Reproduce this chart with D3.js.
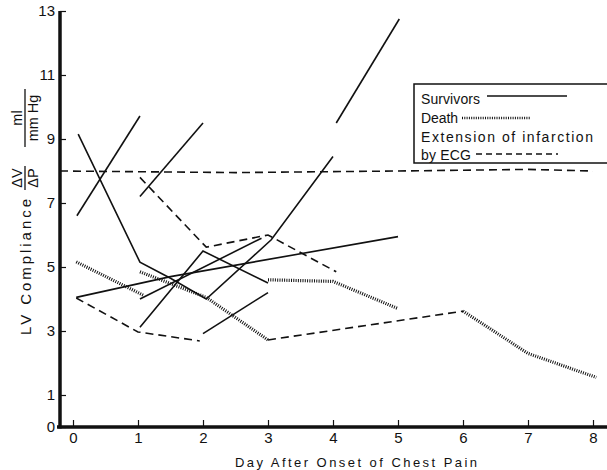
<!DOCTYPE html>
<html>
<head>
<meta charset="utf-8">
<script src="https://cdn.jsdelivr.net/npm/d3@7"></script>
<style>
  body { margin: 0; background: #fff; }
  svg { display: block; font-family: "Liberation Sans", Arial, sans-serif; }
</style>
</head>
<body>
<svg id="chart" width="607" height="470"></svg>
<script>

// day after onset, compliance (ml / mm Hg)
let survivors = [
  [[0.08, 9.15], [1.03, 5.15], [1.5, 4.65], [2.05, 4.0], [3.05, 5.85], [4.0, 8.45]],
  [[4.05, 9.5], [5.02, 12.75]],
  [[0.06, 6.6], [1.03, 9.72]],
  [[1.03, 7.2], [2.0, 9.5]],
  [[0.05, 4.05], [1.5, 4.7], [5.0, 5.95]],
  [[1.03, 3.12], [2.0, 5.5], [3.0, 4.5]],
  [[1.03, 4.0], [2.9, 5.9]],
  [[2.0, 2.92], [3.0, 4.2]]
]

let deaths = [
  [[0.05, 5.16], [1.08, 4.12]],
  [[1.03, 4.85], [2.05, 4.05], [3.0, 2.72]],
  [[3.0, 4.6], [4.0, 4.55], [5.0, 3.7]],
  [[6.0, 3.62], [7.0, 2.3], [8.05, 1.55]]
]

let extensions = [
  [[-0.2, 8.0], [2.5, 7.95], [5.0, 8.0], [7.0, 8.05], [8.0, 8.0]],
  [[1.03, 7.8], [2.05, 5.62], [3.0, 6.0], [4.05, 4.85]],
  [[0.05, 4.03], [1.0, 2.97], [1.95, 2.69]],
  [[3.0, 2.72], [6.0, 3.62]]
]

let dayTicks = [0, 1, 2, 3, 4, 5, 6, 7, 8]
let complianceTicks = [0, 1, 3, 5, 7, 9, 11, 13]
let legendLabels = ["Survivors", "Death", "Extension of infarction", "by ECG"]

let svg = d3.select("#chart")

let x = d3.scaleLinear().domain([-0.2, 8]).range([60, 593])
let y = d3.scaleLinear().domain([0, 13]).range([427, 11])

let line = d3.line().x(function(p) { return x(p[0]) }).y(function(p) { return y(p[1]) })

let styles = {
  survivor: {width: 1.6, dash: null},
  death: {width: 3.2, dash: "1,1.3"},
  extension: {width: 1.6, dash: "8,5"}
}

function drawGroup(lines, style, name) {
  svg.append("g")
     .attr("class", name)
     .selectAll("path")
     .data(lines)
     .enter()
     .append("path")
     .attr("d", line)
     .attr("fill", "none")
     .attr("stroke", "#111")
     .attr("stroke-width", style.width)
     .attr("stroke-dasharray", style.dash)
}

drawGroup(extensions, styles.extension, "extension")
drawGroup(deaths, styles.death, "death")
drawGroup(survivors, styles.survivor, "survivor")

// axes
let yAxis = d3.axisLeft(y).tickValues(complianceTicks).tickSizeInner(-6).tickSizeOuter(0).tickPadding(5)
let xAxis = d3.axisBottom(x).tickValues(dayTicks).tickSizeInner(-7).tickSizeOuter(0).tickPadding(5)

let gy = svg.append("g").attr("transform", "translate(60,0)").call(yAxis)
let gx = svg.append("g").attr("transform", "translate(0,427)").call(xAxis)

gy.select(".domain").remove()
gx.select(".domain").remove()

svg.selectAll(".tick line").attr("stroke", "#111").attr("stroke-width", 1.2)
svg.selectAll(".tick text").attr("fill", "#111").style("font-size", "15px")

svg.append("line").attr("x1", 60).attr("x2", 60).attr("y1", y(13)).attr("y2", 428.5)
   .attr("stroke", "#111").attr("stroke-width", 3.5)
svg.append("line").attr("x1", 57).attr("x2", 607).attr("y1", 427).attr("y2", 427)
   .attr("stroke", "#111").attr("stroke-width", 3.5)

svg.append("text")
   .attr("x", 356).attr("y", 467)
   .attr("text-anchor", "middle")
   .attr("textLength", 242)
   .style("font-size", "13px")
   .attr("fill", "#111")
   .text("Day After Onset of Chest Pain")

// y title, read bottom to top
let ylab = svg.append("g").attr("fill", "#111")

ylab.append("text")
    .attr("transform", "translate(31,267) rotate(-90)")
    .attr("text-anchor", "middle")
    .attr("textLength", 136)
    .style("font-size", "15px")
    .text("LV Compliance")

function fraction(cx, cy, top, bottom, barLength) {
  ylab.append("text")
      .attr("transform", "translate(" + (cx - 3) + "," + cy + ") rotate(-90)")
      .attr("text-anchor", "middle")
      .style("font-size", "14.5px")
      .text(top)
  ylab.append("text")
      .attr("transform", "translate(" + (cx + 13) + "," + cy + ") rotate(-90)")
      .attr("text-anchor", "middle")
      .style("font-size", "14.5px")
      .text(bottom)
  ylab.append("line")
      .attr("x1", cx).attr("x2", cx)
      .attr("y1", cy - barLength / 2).attr("y2", cy + barLength / 2)
      .attr("stroke", "#111").attr("stroke-width", 1.3)
}

fraction(25, 178, "\u0394V", "\u0394P", 24)
fraction(25, 118, "ml", "mm Hg", 58)

// legend
let legend = svg.append("g")

legend.append("rect")
      .attr("x", 414).attr("y", 84).attr("width", 200).attr("height", 79)
      .attr("fill", "#fff").attr("stroke", "#111").attr("stroke-width", 1.5)

let legendY = [104, 123, 142, 160]
let legendWidths = [59, 37, 172, 50]

legend.selectAll("text")
      .data(legendLabels)
      .enter()
      .append("text")
      .attr("x", 421)
      .attr("y", function(d, i) { return legendY[i] })
      .attr("textLength", function(d, i) { return legendWidths[i] })
      .attr("lengthAdjust", "spacing")
      .style("font-size", "14px")
      .attr("fill", "#111")
      .text(function(d) { return d })

let samples = [
  {x1: 487, x2: 567, y: 96, width: 1.4, dash: null},
  {x1: 462, x2: 530, y: 118, width: 2.4, dash: "1,1.3"},
  {x1: 476, x2: 558, y: 154, width: 1.4, dash: "6,4"}
]

legend.selectAll("line")
      .data(samples)
      .enter()
      .append("line")
      .attr("x1", function(d) { return d.x1 })
      .attr("x2", function(d) { return d.x2 })
      .attr("y1", function(d) { return d.y })
      .attr("y2", function(d) { return d.y })
      .attr("stroke", "#111")
      .attr("stroke-width", function(d) { return d.width })
      .attr("stroke-dasharray", function(d) { return d.dash })

</script>
</body>
</html>
